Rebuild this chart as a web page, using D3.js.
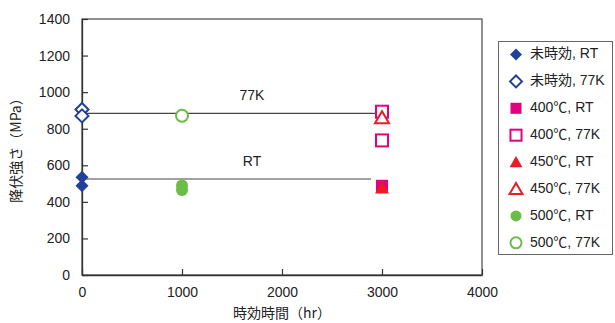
<!DOCTYPE html>
<html>
<head>
<meta charset="utf-8">
<script src="https://cdn.jsdelivr.net/npm/d3@7"></script>
<style>
  body { margin: 0; background: #fff; }
  svg { display: block; }
  text { font-family: "Liberation Sans", Arial, "Noto Sans CJK JP", sans-serif; fill: #222; }
  .jp { font-family: "Noto Sans CJK JP", sans-serif; }
</style>
</head>
<body>
<svg id="chart" width="615" height="323"></svg>
<script>
// Axis ticks
const xTicks = [0, 1000, 2000, 3000, 4000];
const yTicks = [0, 200, 400, 600, 800, 1000, 1200, 1400];

// Series: aging time (hr) and yield strength (MPa)
const seriesNames = ["未時効, RT", "未時効, 77K", "400℃, RT", "400℃, 77K", "450℃, RT", "450℃, 77K", "500℃, RT", "500℃, 77K"];
const seriesShapes = ["diamond", "diamond", "square", "square", "triangle", "triangle", "circle", "circle"];
const seriesFilled = [true, false, true, false, true, false, true, false];
const seriesColors = ["#21409a", "#21409a", "#e5007f", "#e5007f", "#ec1c24", "#ec1c24", "#6abd45", "#6abd45"];
const seriesX = [[0, 0], [0, 0], [3000], [3000, 3000], [3000], [3000], [1000, 1000], [1000]];
const seriesY = [[535, 488], [905, 870], [488], [893, 736], [481], [865], [490, 465], [871]];

// Reference levels for each test temperature
const refLabels = ["77K", "RT"];
const refValues = [884, 525];
const refEnds = [2950, 2890];
const refLabelX = [1700, 1700];
const refLabelY = [980, 615];

const svg = d3.select("#chart");
const mLeft = 82, mRight = 482, mTop = 19, mBottom = 275;

const x = d3.scaleLinear().domain([0, 4000]).range([mLeft, mRight]);
const y = d3.scaleLinear().domain([0, 1400]).range([mBottom, mTop]);

// Frame
svg.append("rect")
  .attr("x", mLeft).attr("y", mTop)
  .attr("width", mRight - mLeft).attr("height", mBottom - mTop)
  .attr("fill", "none").attr("stroke", "#555").attr("stroke-width", 1.3);

// Axes with inward ticks
const fmt = d3.format("d");
const xAxis = svg.append("g").attr("transform", `translate(0,${mBottom})`)
  .call(d3.axisBottom(x).tickValues(xTicks).tickFormat(fmt).tickSizeInner(-6).tickSizeOuter(0).tickPadding(12));
const yAxis = svg.append("g").attr("transform", `translate(${mLeft},0)`)
  .call(d3.axisLeft(y).tickValues(yTicks).tickFormat(fmt).tickSizeInner(-6).tickSizeOuter(0).tickPadding(12));
[xAxis, yAxis].forEach(a => {
  a.select(".domain").attr("stroke", "#333").attr("stroke-width", 1.3);
  a.selectAll(".tick line").attr("stroke", "#333").attr("stroke-width", 1.2);
  a.selectAll(".tick text").attr("font-size", 14).attr("fill", "#222")
    .attr("font-family", "'Liberation Sans', Arial, sans-serif");
});

// Reference lines and labels
refValues.forEach((v, i) => {
  svg.append("line")
    .attr("x1", x(0)).attr("x2", x(refEnds[i]))
    .attr("y1", y(v)).attr("y2", y(v))
    .attr("stroke", "#444").attr("stroke-width", 1.2);
  svg.append("text")
    .attr("x", x(refLabelX[i])).attr("y", y(refLabelY[i]))
    .attr("text-anchor", "middle").attr("dominant-baseline", "middle")
    .attr("font-size", 14).text(refLabels[i]);
});

// Marker drawing
function marker(g, shape, filled, color, cx, cy, scale) {
  const s = scale || 1;
  let el;
  if (shape === "diamond") {
    const r = 6.5 * s;
    el = g.append("path").attr("d", `M${cx},${cy - r}L${cx + r},${cy}L${cx},${cy + r}L${cx - r},${cy}Z`);
  } else if (shape === "square") {
    const h = 6 * s;
    el = g.append("rect").attr("x", cx - h).attr("y", cy - h).attr("width", 2 * h).attr("height", 2 * h);
  } else if (shape === "triangle") {
    const w = 7 * s, hh = 6.5 * s;
    el = g.append("path").attr("d", `M${cx},${cy - hh}L${cx + w},${cy + hh * 0.85}L${cx - w},${cy + hh * 0.85}Z`);
  } else {
    el = g.append("circle").attr("cx", cx).attr("cy", cy).attr("r", 6 * s);
  }
  if (filled) el.attr("fill", color).attr("stroke", "none");
  else el.attr("fill", "#fff").attr("stroke", color).attr("stroke-width", 2);
  return el;
}

const pts = svg.append("g");
seriesNames.forEach((name, i) => {
  seriesX[i].forEach((xv, j) => {
    const off = seriesShapes[i] === "triangle" ? 1 : 0;
    marker(pts, seriesShapes[i], seriesFilled[i], seriesColors[i], x(xv), y(seriesY[i][j]) + off);
  });
});

// Legend
const lg = svg.append("g");
lg.append("rect").attr("x", 498.5).attr("y", 41.5).attr("width", 114).attr("height", 213)
  .attr("fill", "#fff").attr("stroke", "#666").attr("stroke-width", 1);
seriesNames.forEach((name, i) => {
  const cy = 54.5 + i * 26.9;
  marker(lg, seriesShapes[i], seriesFilled[i], seriesColors[i], 516, cy, 0.92);
  lg.append("text").attr("x", 530).attr("y", cy).attr("dominant-baseline", "middle")
    .attr("font-size", 14).text(name);
});

// Axis titles
svg.append("text").attr("class", "jp")
  .attr("transform", `translate(17,${(mTop + mBottom) / 2}) rotate(-90)`)
  .attr("text-anchor", "middle").attr("dominant-baseline", "middle")
  .attr("font-size", 14).text("降伏強さ（MPa）");
svg.append("text").attr("class", "jp")
  .attr("x", 282).attr("y", 314).attr("text-anchor", "middle").attr("dominant-baseline", "middle")
  .attr("font-size", 14).text("時効時間（hr）");
</script>
</body>
</html>
